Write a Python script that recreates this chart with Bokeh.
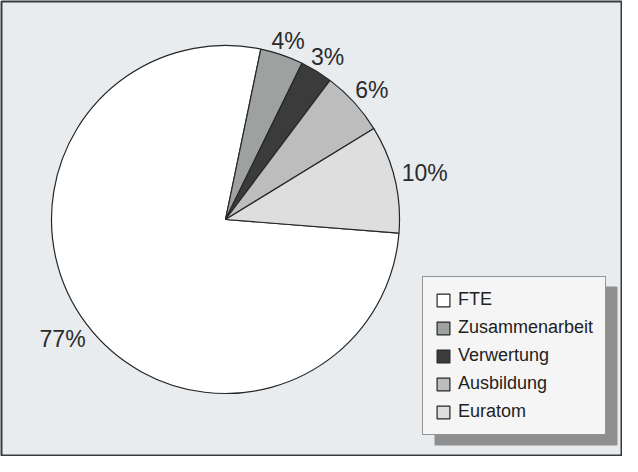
import math
from bokeh.plotting import figure
from bokeh.models import ColumnDataSource, Range1d, Legend, LegendItem, BoxAnnotation
from bokeh.core.properties import value
from bokeh.embed import file_html
from bokeh.resources import INLINE

# ---- data ----
categories = ["FTE", "Zusammenarbeit", "Verwertung", "Ausbildung", "Euratom"]
shares = [77, 4, 3, 6, 10]
labels = ["77%", "4%", "3%", "6%", "10%"]
colors = ["#ffffff", "#9da19f", "#3b3b3b", "#bdbdbd", "#dedede"]

# ---- layout ----
W, H = 622, 456
FW, FH = W - 1, H - 1
CX, CY = 224, 237
R = 174
START_DEG = -4.5
FONT = "Liberation Sans"

# wedges run counterclockwise starting with the last category
total = float(sum(shares))
starts = [0.0] * len(shares)
ends = [0.0] * len(shares)
acc = math.radians(START_DEG)
for i in reversed(range(len(shares))):
    span = 2 * math.pi * shares[i] / total
    starts[i] = acc
    ends[i] = acc + span
    acc += span

src = ColumnDataSource(dict(cat=categories, share=shares, start=starts, end=ends,
                            color=colors, x=[CX] * len(shares), y=[CY] * len(shares)))

# label positions outside the pie
lx, ly = [], []
for i, lab in enumerate(labels):
    mid = (starts[i] + ends[i]) / 2
    hw = 11.5 * len(lab) * 0.6 + 3
    hh = 8
    d = R + 6 + hw * abs(math.cos(mid)) + hh * abs(math.sin(mid))
    lx.append(CX + d * math.cos(mid))
    ly.append(CY + 0.975 * d * math.sin(mid))
lsrc = ColumnDataSource(dict(x=lx, y=ly, t=labels))

p = figure(width=W, height=H, output_backend="svg", toolbar_location=None,
           x_range=Range1d(0, FW), y_range=Range1d(0, FH),
           x_axis_type=None, y_axis_type=None,
           min_border_left=1, min_border_top=1, min_border_right=0, min_border_bottom=0)
p.grid.visible = False
p.background_fill_color = "#e8ecef"
p.border_fill_color = "#fbfbfb"
p.outline_line_color = "#3a3a3a"
p.outline_line_width = 2

wr = p.wedge(x="x", y="y", radius=R, start_angle="start", end_angle="end",
             fill_color="color", line_color="#262626", line_width=1.2, source=src)

p.text(x="x", y="y", text="t", source=lsrc, text_font=value(FONT),
       text_font_size="23px", text_color="#2b2b2b",
       text_align="center", text_baseline="middle")

# legend with drop shadow
LEG_X, LEG_Y, LEG_W, LEG_H = 421, 21, 183, 159
SH_DX, SH_DY = 12, 10
shadow = BoxAnnotation(left=LEG_X + SH_DX, right=LEG_X + SH_DX + LEG_W,
                       bottom=LEG_Y - SH_DY, top=LEG_Y - SH_DY + LEG_H,
                       fill_color="#8f8f8f", fill_alpha=1.0, line_color=None)
p.add_layout(shadow)

items = [LegendItem(label=c, renderers=[wr], index=i) for i, c in enumerate(categories)]
leg = Legend(items=items, location=(LEG_X, LEG_Y), orientation="vertical",
             label_text_font=FONT, label_text_font_size="18px", label_text_color="#222222",
             glyph_width=16, glyph_height=16, label_height=21, label_standoff=7,
             spacing=7, padding=12, margin=0,
             border_line_color="#333333", border_line_width=1.2,
             background_fill_color="#f5f5f5", background_fill_alpha=1.0)
p.add_layout(leg, "center")

open("out.html", "w").write(file_html(p, INLINE))
